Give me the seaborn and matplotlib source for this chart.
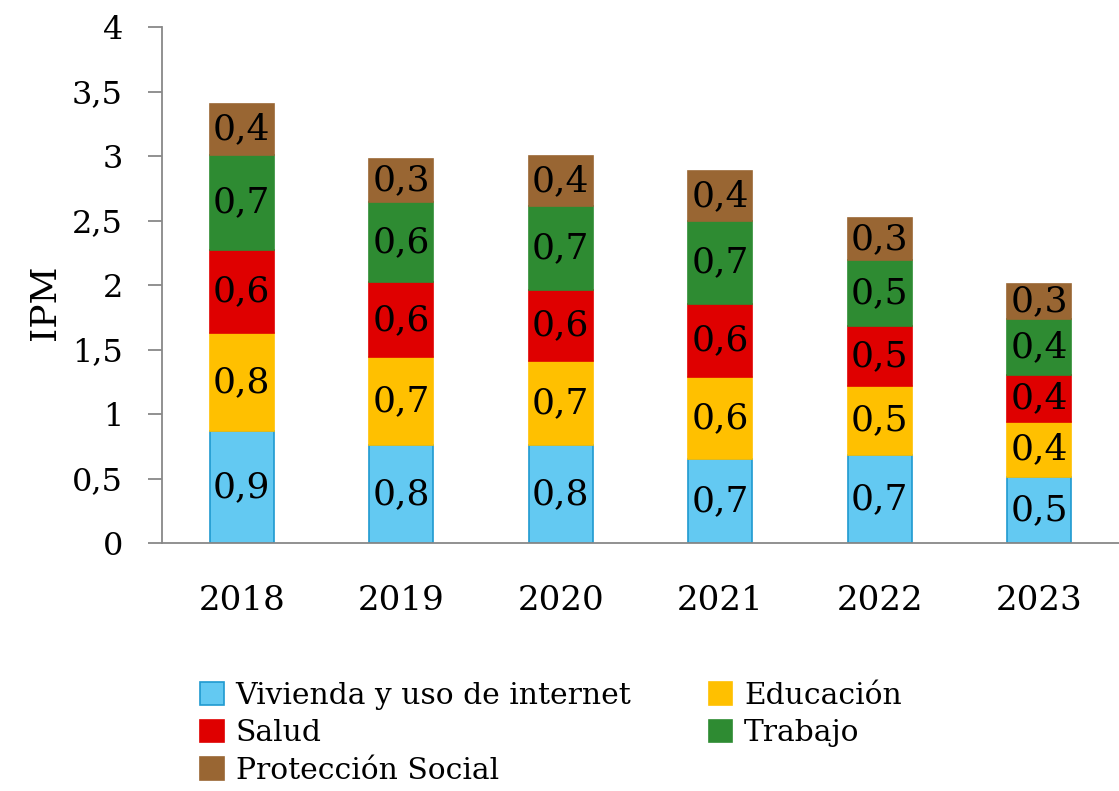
import matplotlib
matplotlib.use("Agg")
import matplotlib.pyplot as plt
import matplotlib.patches as mpatches
import numpy as np
import pandas as pd
import seaborn as sns

# Data
years = ["2018", "2019", "2020", "2021", "2022", "2023"]
vivienda = [0.87, 0.76, 0.76, 0.65, 0.68, 0.51]
educacion = [0.76, 0.68, 0.65, 0.64, 0.54, 0.43]
salud = [0.64, 0.58, 0.55, 0.56, 0.46, 0.36]
trabajo = [0.74, 0.62, 0.65, 0.65, 0.51, 0.44]
proteccion = [0.39, 0.34, 0.39, 0.38, 0.33, 0.27]

series_names = ["Vivienda y uso de internet", "Educación", "Salud", "Trabajo", "Protección Social"]
series_vals = [vivienda, educacion, salud, trabajo, proteccion]
colors = ["#63C9F2", "#FFC000", "#DF0000", "#2E8B32", "#996633"]
edges = ["#1F9AD0", "#FFC000", "#DF0000", "#2E8B32", "#996633"]

sns.set_style("white")
plt.rcParams["font.family"] = ["DejaVu Serif"]
plt.rcParams["text.color"] = "black"

fig = plt.figure(figsize=(11.19, 7.91), dpi=100)
ax = fig.add_axes([162 / 1119, 1 - 543 / 791, (1119 - 162) / 1119, (543 - 27) / 791])

bottom = np.zeros(len(years))
for name, vals, c, ec in zip(series_names, series_vals, colors, edges):
    df = pd.DataFrame({"year": years, "value": vals})
    sns.barplot(data=df, x="year", y="value", color=c, width=0.4, bottom=bottom.copy(),
                edgecolor=ec, linewidth=1.2, saturation=1, ax=ax)
    cont = ax.containers[-1]
    ax.bar_label(cont, labels=[f"{v:.1f}".replace(".", ",") for v in vals],
                 label_type="center", fontsize=26, color="black")
    bottom += np.array(vals)

ax.set_xlim(-0.5, -0.5 + 957 / 160.4)
ax.set_ylim(0, 4)
ax.set_yticks(np.arange(0, 4.01, 0.5))
ax.set_yticklabels([f"{t:g}".replace(".", ",") for t in np.arange(0, 4.01, 0.5)], fontsize=23,
                   color="black")
ax.set_xticks(range(len(years)))
ax.set_xticklabels(years, fontsize=24.5, color="black")
ax.set_xticks(np.arange(-0.5, 6, 1), minor=True)
ax.tick_params(axis="x", which="major", length=0, pad=30)
ax.tick_params(axis="x", which="minor", length=8, color="#888888", width=1.3, direction="out")
ax.tick_params(axis="y", length=10, color="#888888", width=1.3, direction="out", pad=18, left=True)
ax.set_xlabel("")
ax.set_ylabel("IPM", fontsize=26, color="black")
ax.yaxis.set_label_coords(-0.105, 0.467)

for s in ["top", "right"]:
    ax.spines[s].set_visible(False)
for s in ["left", "bottom"]:
    ax.spines[s].set_color("#888888")
    ax.spines[s].set_linewidth(1.3)

# Legend: column-first ordering
order = [0, 2, 4, 1, 3]
handles = [mpatches.Patch(facecolor=colors[i], edgecolor=edges[i], linewidth=1.2) for i in order]
labels = [series_names[i] for i in order]
fig.legend(handles, labels, ncol=2, loc="upper left", bbox_to_anchor=(0.168, 0.153),
           frameon=False, fontsize=21.4, handlelength=0.8, handleheight=0.8,
           handletextpad=0.4, columnspacing=2.6, labelspacing=0.32, borderaxespad=0)

fig.savefig("out.png", dpi=100)
